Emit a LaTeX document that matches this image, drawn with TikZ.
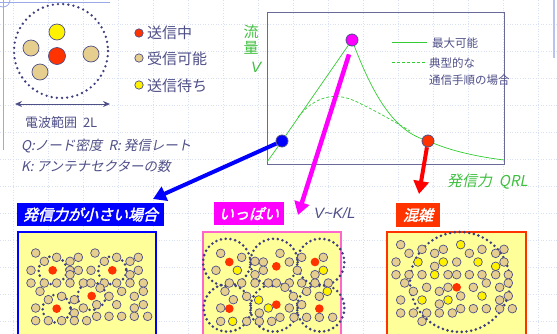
\documentclass[tikz,border=0pt]{standalone}
\usepackage{fontspec}
\setmainfont{Liberation Sans}
\newfontfamily\jp{Noto Sans CJK JP}
\newfontfamily\jpit{Noto Sans CJK JP}[FakeSlant=0.2]
\newfontfamily\jpbi{Noto Sans CJK JP}[FakeSlant=0.25,FakeBold=2.5]
\usetikzlibrary{arrows.meta}
\definecolor{slate}{HTML}{4F4F88}
\definecolor{dslate}{HTML}{3F3F80}
\definecolor{tanc}{HTML}{E5CE8E}
\definecolor{ored}{HTML}{FF3300}
\definecolor{pyel}{HTML}{FFFF99}
\definecolor{gr}{HTML}{33CC33}
\definecolor{grtext}{HTML}{3FBF3F}
\definecolor{gridc}{HTML}{D8E0F4}
\definecolor{lblue}{HTML}{9AAAE8}
\definecolor{pinkb}{HTML}{FF66CC}
\definecolor{mag}{HTML}{FF00FF}
\definecolor{pblue}{HTML}{0000FF}
\tikzset{
  nd/.style={draw=slate, line width=0.7},
  rng/.style={draw=dslate, line width=2.9, dash pattern=on 0pt off 4.8pt, line cap=round},
  lbl/.style={inner sep=0, anchor=west, text=slate},
  tag/.style={inner sep=0, text=white, font=\jpbi\fontsize{15}{15}\selectfont},
  pt/.style={circle, draw=slate, line width=0.8, minimum size=12, inner sep=0},
  bigarrow/.style={line width=4, -{Triangle[length=13,width=15]}}
}
\begin{document}
\begin{tikzpicture}[x=1pt,y=-1pt]
\clip (0,0) rectangle (557,333);
\fill[white] (0,0) rectangle (557,333);
% background grid
\foreach \x in {13,48,...,553} \draw[gridc, dotted, line width=0.6] (\x,0) -- (\x,333);
\foreach \y in {24,51,...,333} \draw[gridc, dotted, line width=0.6] (0,\y) -- (557,\y);
% slide frame remnants
\draw[lblue, line width=1] (3,0) -- (3,150);
\draw[lblue, line width=1] (0,2) -- (110,2);
\draw[lblue, line width=0.8] (3,0) circle (7);
\draw[lblue!70, line width=2] (554,0) -- (554,58);

% ---- top-left range picture
\draw[rng, line width=2.6, dash pattern=on 0pt off 5.2pt] (61,51) circle (47);
\draw[nd, fill=yellow] (57,32) circle (8);
\draw[nd, fill=tanc] (31,48) circle (8);
\draw[nd, fill=ored] (57,56) circle (8.5);
\draw[nd, fill=tanc] (91,54) circle (8);
\draw[nd, fill=tanc] (40,72) circle (8);
% legend
\draw[nd, fill=ored] (139,33) circle (4.2);
\draw[nd, fill=tanc] (139,58) circle (4.2);
\draw[nd, fill=yellow] (139,85) circle (4.2);
\node[lbl, font=\jp\fontsize{15}{15}\selectfont] (l1) at (147,33) {送信中};
\node[lbl, font=\jp\fontsize{15}{15}\selectfont] (l2) at (147,59) {受信可能};
\node[lbl, font=\jp\fontsize{15}{15}\selectfont] (l3) at (147,86) {送信待ち};
\coordinate (da) at (15,104);
\coordinate (db) at (110,104);
\draw[slate, line width=1, {Stealth[length=7,width=6]}-{Stealth[length=7,width=6]}] (da) -- (db);
\node[lbl, font=\jp\fontsize{13}{13}\selectfont] (rng2l) at (25,123) {電波範囲\ \ 2L};
\node[lbl, font=\jpit\fontsize{13.5}{13.5}\selectfont] (qr) at (21,146) {Q:ノード密度\ \ R: 発信レート};
\node[lbl, font=\jpit\fontsize{13.5}{13.5}\selectfont] (kk) at (21,166) {K: アンテナセクターの数};

% ---- graph
\draw[draw=slate!85, line width=1] (267,12) rectangle (504,164);
\coordinate (o) at (267,162);
\coordinate (e) at (504,160);
\node[pt, fill=pblue] (pb) at (282,141) {};
\node[pt, fill=mag] (pm) at (352,40) {};
\node[pt, fill=ored] (pr) at (428,141) {};
\draw[gr, line width=0.7] (o) -- (pb) -- (pm);
\draw[gr, line width=0.7] (pm) .. controls (372,92) and (392,128) .. (pr) .. controls (455,152) and (480,157) .. (e);
\draw[gr, line width=0.7, dash pattern=on 3pt off 2pt] (298,117) .. controls (315,96) and (335,92) .. (355,101) .. controls (378,112) and (395,122) .. (410,131);
\draw[gr, line width=0.8] (392,42) -- (427,42);
\draw[gr, line width=0.8, dash pattern=on 3pt off 2pt] (392,62) -- (427,62);
\node[lbl, font=\jp\fontsize{11.5}{11.5}\selectfont] (g1) at (432,43) {最大可能};
\node[lbl, font=\jp\fontsize{11.5}{11.5}\selectfont] (g2) at (429,63) {典型的な};
\node[lbl, font=\jp\fontsize{11.5}{11.5}\selectfont] (g3) at (429,80) {通信手順の場合};
\node[inner sep=0, text=grtext, font=\jp\fontsize{15}{15}\selectfont] (ry1) at (251,32) {流};
\node[inner sep=0, text=grtext, font=\jp\fontsize{15}{15}\selectfont] (ry2) at (251,48) {量};
\node[inner sep=0, text=grtext, font=\itshape\fontsize{15}{15}\selectfont] (vv) at (256,67) {V};
\node[lbl, text=grtext, font=\jpit\fontsize{15}{15}\selectfont] (xl) at (447,182) {発信力\ \ QRL};
\node[lbl, font=\itshape\fontsize{15}{15}\selectfont] (vkl) at (314,213) {V\char"7E K/L};

% ---- tags
\node[tag, fill=pblue, minimum width=147, minimum height=23] (t1) at (90.5,214.5) {発信力が小さい場合};
\node[tag, fill=mag, minimum width=70, minimum height=23] (t2) at (249,213.5) {いっぱい};
\node[tag, fill=ored, minimum width=44, minimum height=24] (t3) at (418,215) {混雑};

% ---- arrows
\coordinate (ab) at (153,199);
\coordinate (am) at (298,215);
\coordinate (ar) at (419,194);
\draw[bigarrow, pblue] (pb) -- (ab);
\draw[bigarrow, mag, line width=4.5] (pm.south) ++(-3,8) -- (am);
\draw[bigarrow, red] (pr) -- (ar);

% ---- panels
\draw[fill=pyel, draw=pblue, line width=1.5] (18,232) rectangle (156,345);
\draw[fill=pyel, draw=pinkb, line width=1.2] (203,232) rectangle (341,345);
\draw[fill=pyel, draw=ored, line width=1.2] (387,232) rectangle (526,345);

% left panel
\begin{scope}[shift={(15,228)}, scale=1/3]
\foreach \p in {(113,127),(292,127),(230,204),(125,242)} \draw[rng] \p circle (42);
\foreach \p in {(62,75),(240,75),(125,88),(190,88),(305,88),(370,88),(88,100),(165,100),(268,100),(345,100),
 (48,127),(165,127),(190,127),(228,127),(370,127),(165,140),(345,140),
 (48,165),(88,165),(125,165),(165,165),(205,165),(228,165),(268,165),(305,165),(345,165),(385,165),
 (75,190),(255,180),(320,190),(385,190),(140,205),(282,205),(358,205),(100,215),(178,215),
 (245,230),(305,230),(385,230),(62,240),(205,240),(358,240),(178,255),
 (62,278),(100,278),(140,278),(178,278),(215,278),(245,265),(282,265),(320,265),(358,265),(398,265)}
   \draw[nd, fill=tanc] \p circle (13);
\foreach \p in {(113,127),(292,127),(230,204),(125,242)} \draw[nd, draw=none, fill=ored] \p circle (13);
\end{scope}

% middle panel
\begin{scope}[shift={(200,228)}, scale=1/3]
\foreach \p in {(80,103),(222,103),(362,103),(82,240),(222,240),(362,240)} \draw[rng] \p circle (71);
\foreach \p in {(62,76),(240,76),(125,88),(305,88),(370,88),(165,100),(190,102),(268,102),
 (48,127),(190,127),(165,140),(292,127),(345,140),
 (88,165),(125,165),(165,165),(205,165),(229,165),(268,165),(305,165),(345,165),(385,165),
 (75,190),(255,178),(320,190),(140,205),(280,205),(358,205),(100,215),(305,230),(62,240),(268,240),(178,255),
 (62,280),(140,280),(178,280),(215,280),(240,268),(282,268),(320,268),(358,268),(398,268)}
   \draw[nd, fill=tanc] \p circle (13);
\foreach \p in {(112,127),(370,127),(176,216),(382,190),(98,280),(205,240)} \draw[nd, fill=yellow] \p circle (13);
\foreach \p in {(88,102),(229,115),(345,102),(88,242),(229,230),(358,242)} \draw[nd, draw=none, fill=ored] \p circle (13);
\end{scope}

% right panel
\begin{scope}[shift={(384,228)}, scale=1/3]
\draw[rng] (228,162) circle (150);
\foreach \p in {(50,50),(75,76),(114,64),(152,76),(178,64),(256,76),(294,64),(335,76),(360,64),
 (36,102),(152,115),(218,102),(360,102),
 (36,140),(75,140),(114,140),(192,140),(218,140),(256,140),(294,140),(335,140),(373,140),
 (62,165),(128,178),(166,190),(192,178),(268,178),(307,165),(347,178),(373,165),(88,190),(230,204),(373,204),
 (50,216),(347,216),(166,228),
 (50,255),(88,255),(128,255),(166,255),(205,255),(230,242),(268,242),(307,242),(347,242),(385,242),(114,280)}
   \draw[nd, fill=tanc] \p circle (13);
\foreach \p in {(230,50),(102,102),(178,102),(282,102),(335,115),(152,140),(114,216),(192,216),(294,204)}
   \draw[nd, fill=yellow] \p circle (13);
\draw[nd, draw=none, fill=ored] (218,178) circle (13);
\end{scope}
\end{tikzpicture}
\end{document}
